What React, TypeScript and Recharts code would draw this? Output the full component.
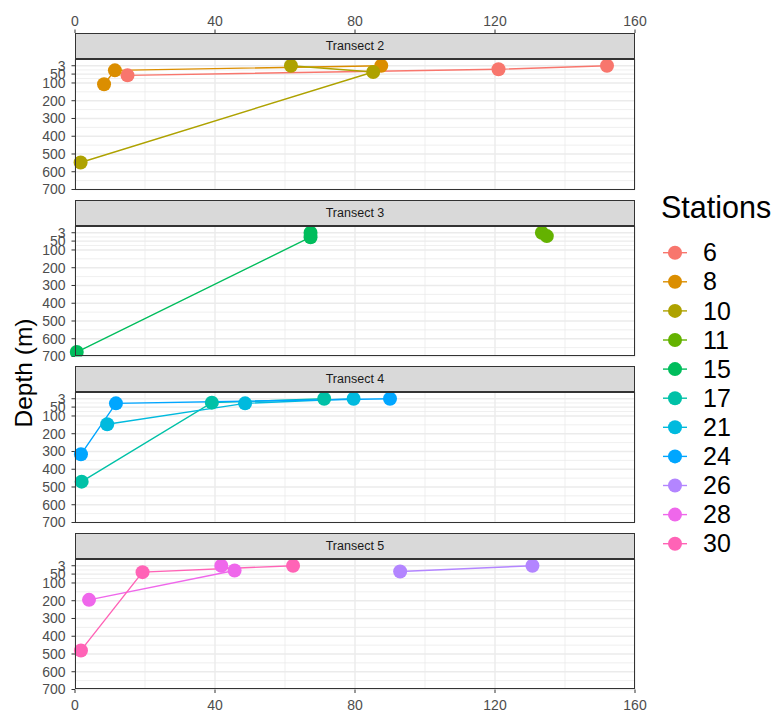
import React from "react";
import { CartesianGrid, Scatter, ScatterChart, XAxis, YAxis } from "recharts";

// stations, in legend order
const stations = ["6", "8", "10", "11", "15", "17", "21", "24", "26", "28", "30"];
const stationTransect = [2, 2, 2, 3, 3, 4, 4, 4, 5, 5, 5];
// distance (x) and depth (m) of each sampled point, in path order
const stationDistance = [
    [152, 121, 15],
    [87.5, 11.4, 8.3],
    [61.7, 85.2, 1.6],
    [133.4, 134.8],
    [67.3, 67.3, 0.5],
    [71.2, 39.1, 1.9],
    [79.6, 48.6, 9.2],
    [90, 11.7, 1.7],
    [130.7, 92.9],
    [41.8, 45.6, 4],
    [62.3, 19.3, 1.7],
];
const stationDepth = [
    [3, 23, 57],
    [3, 29, 107],
    [3, 38, 548],
    [3, 22],
    [3, 28, 675],
    [3, 25, 470],
    [3, 29, 147],
    [3, 29, 316],
    [3, 35],
    [3, 30, 195],
    [3, 39, 480],
];
const transects = [2, 3, 4, 5];
const distanceTicks = [0, 40, 80, 120, 160];
const depthTicks = [3, 50, 100, 200, 300, 400, 500, 600, 700];

const palette = [
    "#F8766D", "#DB8E00", "#AEA200", "#64B200", "#00BD5C", "#00C1A7",
    "#00BADE", "#00A6FF", "#B385FF", "#EF67EB", "#FF63B6",
];

const FONT = "'Liberation Sans', Arial, Helvetica, sans-serif";
const PLOT_LEFT = 75;
const PLOT_W = 560;
const FIRST_TOP = 59;
const PLOT_H = 130.5;
const STEP = 166.5;
const STRIP_H = 26;
const TOP_SPACE = 59;
const BOTTOM_SPACE = 24;
const CHART_W = 660;

const midpoints = (t: number[]) => t.slice(1).map((v, i) => (v + t[i]) / 2);
const minorDepth = midpoints(depthTicks);
const minorDistance = midpoints(distanceTicks);

const TopTick = (props: any) => {
    const { x, payload } = props;
    return (
        <g>
            <line x1={x} x2={x} y1={29.5} y2={33} stroke="#333333" strokeWidth={1} />
            <text x={x} y={25.5} textAnchor="middle" fontSize={14} fill="#4D4D4D" fontFamily={FONT}>
                {payload.value}
            </text>
        </g>
    );
};

function Panel({ index, transect }: { index: number; transect: number }) {
    const first = index === 0;
    const last = index === transects.length - 1;
    const panelTop = FIRST_TOP + index * STEP;
    const members = stations.map((_, s) => s).filter((s) => stationTransect[s] === transect);
    const series = members.map((s) => ({
        s,
        pts: stationDistance[s].map((x, k) => ({ x, depth: stationDepth[s][k] })),
    }));

    return (
        <>
            <div
                style={{
                    position: "absolute",
                    left: PLOT_LEFT,
                    top: panelTop - STRIP_H,
                    width: PLOT_W,
                    height: STRIP_H,
                    boxSizing: "border-box",
                    background: "#D9D9D9",
                    border: "1px solid #333333",
                    display: "flex",
                    alignItems: "center",
                    justifyContent: "center",
                    fontFamily: FONT,
                    fontSize: 12.5,
                    color: "#1A1A1A",
                }}
            >
                Transect {transect}
            </div>
            <div style={{ position: "absolute", left: 0, top: panelTop - TOP_SPACE }}>
                <ScatterChart
                    width={CHART_W}
                    height={TOP_SPACE + PLOT_H + BOTTOM_SPACE}
                    margin={{
                        top: first ? 0 : TOP_SPACE,
                        right: CHART_W - PLOT_LEFT - PLOT_W,
                        bottom: last ? 0 : BOTTOM_SPACE,
                        left: PLOT_LEFT - 30,
                    }}
                >
                    <CartesianGrid
                        horizontalValues={minorDepth}
                        verticalValues={minorDistance}
                        stroke="#EBEBEB"
                        strokeWidth={0.8}
                        fill="none"
                    />
                    <CartesianGrid
                        horizontalValues={depthTicks}
                        verticalValues={distanceTicks}
                        stroke="#EBEBEB"
                        strokeWidth={1.4}
                        fill="none"
                    />
                    {first ? (
                        <XAxis
                            orientation="top"
                            type="number"
                            dataKey="x"
                            domain={[0, 160]}
                            ticks={distanceTicks}
                            interval={0}
                            height={TOP_SPACE}
                            axisLine={false}
                            tickLine={false}
                            tick={<TopTick />}
                        />
                    ) : (
                        <XAxis
                            type="number"
                            dataKey="x"
                            domain={[0, 160]}
                            ticks={distanceTicks}
                            hide={!last}
                            interval={0}
                            height={BOTTOM_SPACE}
                            axisLine={false}
                            tickSize={3.5}
                            tickMargin={7}
                            tickLine={{ stroke: "#333333" }}
                            tick={{ fontSize: 14, fill: "#4D4D4D", fontFamily: FONT }}
                        />
                    )}
                    <YAxis
                        type="number"
                        dataKey="depth"
                        reversed
                        domain={[-35, 700]}
                        allowDataOverflow
                        ticks={depthTicks}
                        interval={0}
                        width={30}
                        axisLine={false}
                        tickSize={3.5}
                        tickMargin={6}
                        tickLine={{ stroke: "#333333" }}
                        tick={{ fontSize: 14, fill: "#4D4D4D", fontFamily: FONT }}
                    />
                    {series.map(({ s, pts }) => (
                        <Scatter
                            key={`l${s}`}
                            data={pts}
                            line={{ stroke: palette[s], strokeWidth: 1.4 }}
                            shape={() => <g />}
                            isAnimationActive={false}
                        />
                    ))}
                    {series.map(({ s, pts }) => (
                        <Scatter
                            key={`p${s}`}
                            data={pts}
                            fill={palette[s]}
                            shape={(p: any) => <circle cx={p.cx} cy={p.cy} r={7} fill={palette[s]} />}
                            isAnimationActive={false}
                        />
                    ))}
                </ScatterChart>
            </div>
            <div
                style={{
                    position: "absolute",
                    left: PLOT_LEFT,
                    top: panelTop,
                    width: PLOT_W,
                    height: PLOT_H,
                    boxSizing: "border-box",
                    border: "1px solid #333333",
                    pointerEvents: "none",
                }}
            />
        </>
    );
}

function StationLegend() {
    return (
        <svg width={120} height={380} style={{ position: "absolute", left: 656, top: 180 }}>
            <text x={5} y={37.5} fontSize={30.5} fontFamily={FONT} fill="#000000">
                Stations
            </text>
            {stations.map((name, i) => {
                const cy = 72.7 + i * 29.1;
                return (
                    <g key={name}>
                        <line x1={7} x2={31} y1={cy} y2={cy} stroke={palette[i]} strokeWidth={1.4} />
                        <circle cx={19} cy={cy} r={7} fill={palette[i]} />
                        <text x={47} y={cy + 8.6} fontSize={25} fontFamily={FONT} fill="#000000">
                            {name}
                        </text>
                    </g>
                );
            })}
        </svg>
    );
}

export default function App() {
    return (
        <div
            style={{
                position: "absolute",
                left: 0,
                top: 0,
                width: 776,
                height: 713,
                background: "#FFFFFF",
                overflow: "hidden",
                fontFamily: FONT,
            }}
        >
            {transects.map((t, i) => (
                <Panel key={t} index={i} transect={t} />
            ))}
            <div
                style={{
                    position: "absolute",
                    left: 24,
                    top: 373,
                    transform: "translate(-50%, -50%) rotate(-90deg)",
                    fontSize: 24.5,
                    color: "#000000",
                    whiteSpace: "nowrap",
                }}
            >
                Depth (m)
            </div>
            <StationLegend />
        </div>
    );
}
